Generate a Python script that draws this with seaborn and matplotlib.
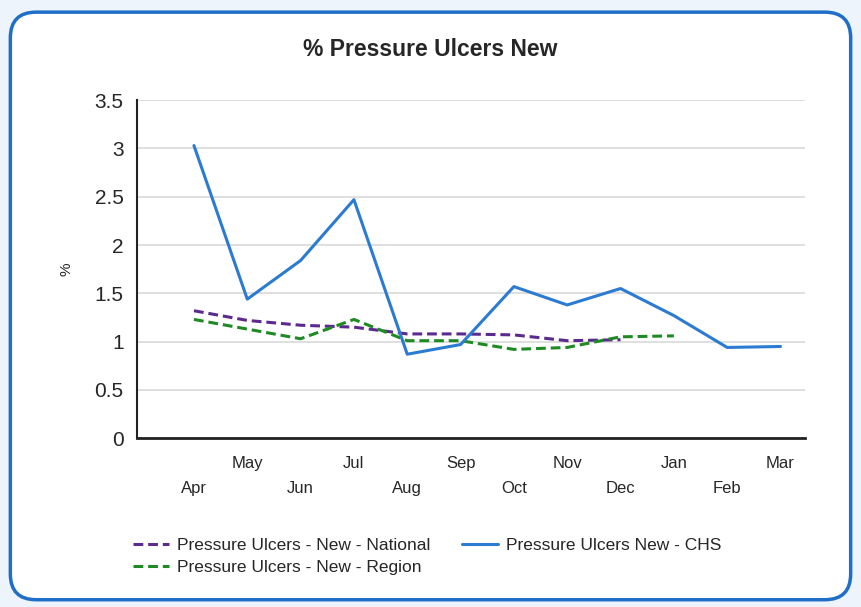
import numpy as np
import pandas as pd
import matplotlib
matplotlib.use("Agg")
import matplotlib.pyplot as plt
from matplotlib.patches import FancyBboxPatch
import seaborn as sns

months = ["Apr", "May", "Jun", "Jul", "Aug", "Sep", "Oct", "Nov", "Dec", "Jan", "Feb", "Mar"]
chs = [3.03, 1.44, 1.84, 2.47, 0.87, 0.97, 1.57, 1.38, 1.55, 1.27, 0.94, 0.95]
national = [1.32, 1.22, 1.17, 1.15, 1.08, 1.08, 1.07, 1.01, 1.02, np.nan, np.nan, np.nan]
region = [1.23, 1.13, 1.03, 1.23, 1.01, 1.01, 0.92, 0.94, 1.05, 1.06, np.nan, np.nan]
y_ticks = [0, 0.5, 1, 1.5, 2, 2.5, 3, 3.5]
y_tick_labels = ["0", "0.5", "1", "1.5", "2", "2.5", "3", "3.5"]

sns.set_theme(style="white")
plt.rcParams["font.family"] = ["Liberation Sans", "DejaVu Sans"]

fig = plt.figure(figsize=(8.61, 6.07), dpi=100)
fig.patch.set_facecolor("#eef4fb")

# white rounded panel with blue border
panel = FancyBboxPatch((0.012, 0.012), 0.976, 0.968,
                       boxstyle="round,pad=0,rounding_size=0.03",
                       transform=fig.transFigure, facecolor="white",
                       edgecolor="#1f6fc8", linewidth=2.5, zorder=-1,
                       mutation_aspect=861 / 607)
fig.patches.append(panel)

ax = fig.add_axes([0.159, 0.278, 0.776, 0.557])
ax.set_facecolor("none")

x = np.arange(len(months))
df = pd.DataFrame({"x": x, "chs": chs, "national": national, "region": region})

sns.lineplot(data=df, x="x", y="national", ax=ax, color="#5b2a91",
             linestyle=(0, (3.2, 1.6)), linewidth=2.2,
             label="Pressure Ulcers - New - National")
sns.lineplot(data=df, x="x", y="region", ax=ax, color="#1e8a22",
             linestyle=(0, (3.2, 1.6)), linewidth=2.2,
             label="Pressure Ulcers - New - Region")
sns.lineplot(data=df, x="x", y="chs", ax=ax, color="#2b7bd3",
             linewidth=2.2, label="Pressure Ulcers New - CHS")

ax.set_xlim(-1.07, 11.46)
ax.set_ylim(0, 3.5)
ax.set_yticks(y_ticks)
ax.set_yticklabels(y_tick_labels, fontsize=15)
ax.grid(axis="y", color="#d9d9d9", linewidth=1.2)
ax.set_axisbelow(True)

ax.set_xticks(x)
ax.set_xticklabels([("\n" + m) if i % 2 == 0 else m for i, m in enumerate(months)],
                   fontsize=12, linespacing=1.8)
ax.tick_params(axis="x", direction="out", length=3.5, width=1, color="#444444", pad=9.5)
ax.tick_params(axis="y", direction="out", length=3.5, width=1, color="#444444", pad=6)

for s in ["top", "right"]:
    ax.spines[s].set_visible(False)
ax.spines["left"].set_color("#222222")
ax.spines["left"].set_linewidth(1.5)
ax.spines["bottom"].set_color("#222222")
ax.spines["bottom"].set_linewidth(2)

ax.set_xlabel("")
ax.set_ylabel("%", fontsize=11, labelpad=15)

fig.text(0.5, 0.919, "% Pressure Ulcers New", ha="center", va="center",
         fontsize=16.5, fontweight="bold")

handles, labels = ax.get_legend_handles_labels()
ax.legend(handles, labels,
          ncol=2, loc="upper left", bbox_to_anchor=(133 / 861, 1 - 538 / 607),
          bbox_transform=fig.transFigure, frameon=False, fontsize=12.5,
          handlelength=2.1, handletextpad=0.45, columnspacing=1.8,
          labelspacing=0.38, borderpad=0, borderaxespad=0)

fig.savefig("out.png", dpi=100)
